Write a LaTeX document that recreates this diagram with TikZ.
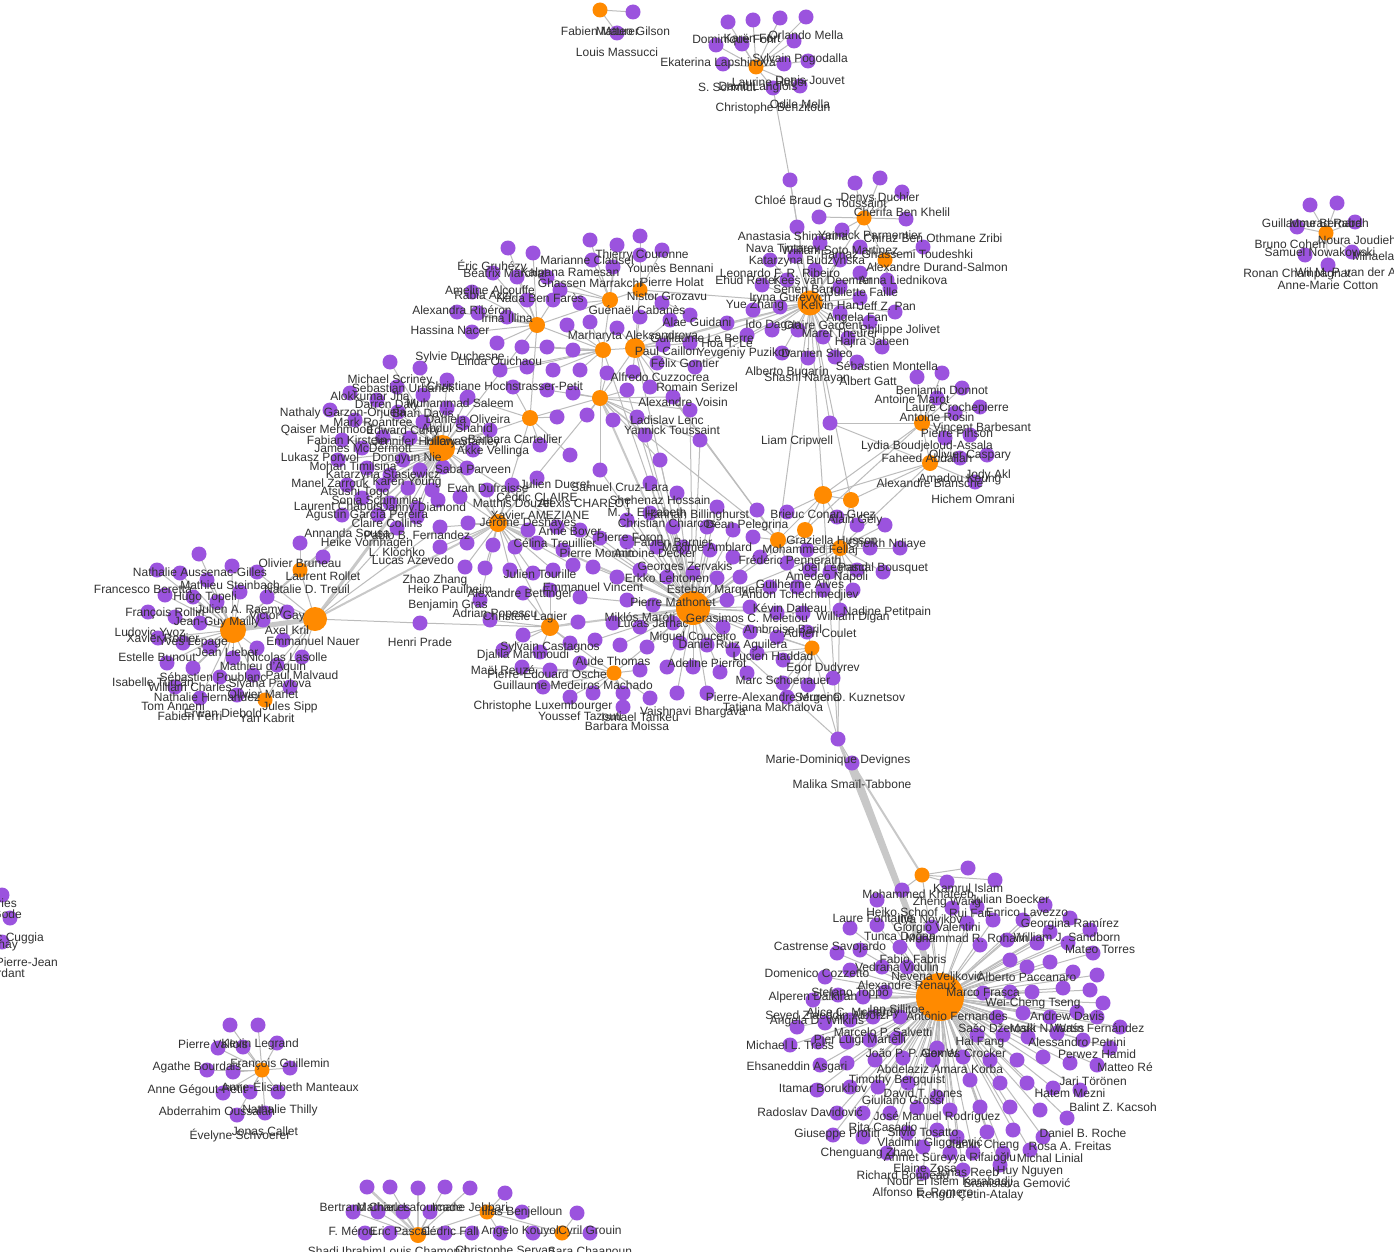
\documentclass[tikz,border=0pt]{standalone}
\usepackage{fontspec}
\setmainfont{Liberation Sans}
\definecolor{purp}{RGB}{155,83,222}
\definecolor{orng}{RGB}{255,138,0}
\definecolor{edgec}{RGB}{188,188,188}
\definecolor{bandc}{RGB}{200,200,200}
\definecolor{txt}{RGB}{50,50,50}
\tikzset{
  pdot/.style={circle,fill=purp,inner sep=0pt,minimum size=15pt},
  hub/.style={circle,fill=orng,inner sep=0pt,minimum size=#1},
  edge/.style={draw=edgec,line width=1pt},
  band/.style={draw=bandc,line width=#1},
  lbl/.style={font=\fontsize{12}{14}\selectfont,text=txt,inner sep=0pt}
}
% pass 1: coordinates + connectors
\newcommand\mydots[2]{%
  \foreach \px/\py/\hb [count=\i] in #2 {%
    \coordinate (#1\i) at (\px,\py);
    \draw[edge] (\hb) -- (#1\i);
  }}
% pass 2: the dots themselves
\newcommand\mynodes[2]{%
  \foreach \px/\py/\hb [count=\i] in #2 {%
    \node[pdot] (#1\i d) at (#1\i) {};
  }}
\newcommand\mylabels[2]{%
  \foreach \px/\py/\lab [count=\i] in {#2} {%
    \node[lbl] (#1\i) at (\px,\py) {\lab};
  }}
\newcommand\link[3][edge]{\draw[#1] (#2) -- (#3);}

\def\listta{633/12/TA, 617/33/TA}
\def\listth{728/22/TH, 753/20/TH, 780/18/TH, 806/17/TH, 716/45/TH, 742/44/TH, 794/41/TH, 723/64/TH, 784/64/TH, 808/61/TH, 773/88/TH, 800/86/TH}
\def\listk{790/180/K, 855/183/KA, 880/178/KA, 902/192/KA, 819/217/KA, 906/219/KA, 797/227/K, 842/230/KA, 820/243/K, 860/247/KB, 923/247/KB, 770/260/K, 795/256/K, 840/260/K, 815/270/K, 787/280/K, 762/285/K, 860/273/KB, 887/280/KB, 840/287/K, 860/298/K, 890/288/KB, 753/310/K, 780/307/K, 840/313/K, 895/312/K, 747/335/K, 772/330/K, 798/330/K, 823/337/K, 848/338/K, 870/322/K, 882/347/K, 782/353/K, 808/358/K, 835/357/K, 857/362/K}
\def\listd{917/377/D1, 942/373/D1, 962/388/D1, 937/398/D1, 980/407/D1, 955/413/D1, 945/438/D1, 970/435/D1, 987/455/D2, 960/458/D2, 975/482/D2}
\def\listc{508/248/C3, 533/253/C3, 590/240/C1, 617/245/C1, 640/236/C2, 662/250/C2, 592/260/C1, 613/267/C1, 640/255/C2, 493/273/C3, 517/277/C3, 547/277/C1, 560/290/C1, 580/303/C1, 662/303/C2, 472/292/C3, 527/300/C3, 553/300/C3, 457/312/C3, 478/313/C3, 507/317/C3, 567/325/C4, 590/322/C4, 617/328/C5, 640/317/C5, 670/320/C5, 690/315/C2, 727/323/C5, 472/332/C3, 497/343/C3, 522/347/C4, 547/347/C4, 573/350/C4, 663/345/C5, 690/343/C5, 500/370/C4, 527/367/C4, 553/370/C4, 580/370/C4, 607/373/C6, 633/372/C5, 657/363/C5, 695/367/C5, 513/387/C7, 547/390/C6, 573/393/C6, 627/390/C6, 650/387/C5, 673/397/C6, 690/410/C6, 467/398/C7, 557/417/C7, 587/415/C6, 613/420/C6, 637/417/C6, 645/435/C6, 700/440/C6, 660/460/C6, 600/470/C6, 570/455/C7, 540/445/C7}
\def\listl{390/362/L, 420/368/L, 397/387/L, 350/393/L, 377/400/L, 423/395/L, 468/397/L, 330/410/L, 398/412/L, 447/380/L, 447/408/L, 355/420/L, 423/422/L, 463/423/L, 490/430/L, 342/440/L, 383/437/L, 410/438/L, 473/450/L, 362/448/L, 338/460/L, 403/460/L, 367/468/L, 390/475/L, 420/470/L, 443/467/L, 467/468/L, 347/485/L, 383/485/L, 408/488/L, 432/490/L, 460/497/LB, 487/490/LB, 512/485/LB, 537/478/LB, 362/498/L, 390/503/L, 417/508/L, 438/500/L, 342/515/L, 378/515/L, 397/528/L, 417/517/L, 440/527/LB, 468/523/LB, 528/530/LB, 557/527/LB, 440/547/LB, 467/543/LB, 493/545/LB, 515/547/LB, 537/543/LB, 563/550/LB, 465/567/LB, 485/568/LB, 510/570/LB, 533/573/LB, 553/570/LB, 573/565/LB, 480/600/LB}
\def\listll{300/543/LC, 199/554/LL1, 157/570/LL1, 180/573/LL1, 232/566/LL1, 257/572/LL2, 323/557/LC, 207/580/LL1, 165/595/LL1, 193/597/LL1, 217/602/LL1, 240/592/LL1, 267/597/LL2, 148/612/LL1, 175/617/LL1, 200/623/LL1, 287/612/LL2, 263/620/LL1, 158/638/LL1, 183/643/LL1, 210/647/LL1, 257/648/LL1, 283/640/LL2, 233/658/LL1, 167/663/LL1, 193/668/LL1, 277/665/LL2, 302/657/LL2, 220/677/LL1, 253/675/LL3, 175/687/LL1, 200/698/LL1, 237/695/LL3, 290/687/LL3}
\def\listm{650/483/M, 677/493/M, 717/507/M, 757/510/MA, 787/512/MBr, 857/525/MG, 885/525/MC, 837/517/MBr, 627/520/M, 650/513/M, 673/527/M, 707/527/M, 733/530/M, 753/537/MA, 807/550/MC, 870/548/MC, 900/548/MC, 580/530/M, 600/538/M, 627/542/M, 657/547/M, 683/547/M, 710/550/M, 733/557/M, 760/557/MA, 787/563/MA, 810/570/MC, 830/572/MC, 857/570/MC, 883/572/MC, 593/567/M, 617/577/M, 640/570/M, 667/577/M, 693/573/M, 717/578/M, 740/577/M, 770/587/M, 797/587/MA, 823/590/MC, 853/590/MC, 523/593/M2, 550/590/M2, 580/597/M, 627/600/M, 653/605/M, 727/600/M, 750/607/M, 777/613/M, 803/613/M, 840/610/MC, 490/620/M2, 578/622/M2, 613/623/M, 640/627/M, 673/623/M, 723/627/M, 750/632/M, 777/637/M4, 807/632/M4, 523/635/M2, 503/650/M2, 540/652/M2, 570/643/M2, 595/640/M, 620/645/M, 647/647/M, 680/643/M, 707/645/M, 733/650/M, 757/653/M4, 783/660/M4, 522/667/M3, 550/670/M3, 580/663/M3, 640/670/M3, 667/667/M, 693/667/M, 720/672/M, 747/673/M, 783/683/M4, 808/685/M4, 833/678/M4, 543/687/M3, 570/697/M3, 593/693/M3, 623/693/M3, 650/698/M3, 677/693/M, 707/693/M, 787/697/M4, 623/707/M3}
\def\listr{968/868/RA, 995/880/RA, 902/890/RA, 947/882/RA, 877/900/R, 952/908/R, 977/907/R, 1045/905/R, 1070/918/R, 1090/930/R, 850/928/R, 877/925/R, 932/927/R, 967/923/R, 993/920/R, 1023/920/R, 1050/932/R, 837/953/R, 860/950/R, 900/947/R, 923/943/R, 980/945/R, 1007/940/R, 1037/943/R, 1068/943/R, 1093/953/R, 825/977/R, 850/970/R, 882/967/R, 907/967/R, 1010/960/R, 1027/967/R, 1050/962/R, 1073/972/R, 1097/975/R, 813/1000/R, 838/995/R, 863/997/R, 885/992/R, 983/993/R, 1010/992/R, 1032/992/R, 1063/988/R, 1090/990/R, 1103/1003/R, 797/1027/R, 825/1023/R, 850/1020/R, 873/1017/R, 900/1017/R, 997/1017/R, 1023/1013/R, 1050/1017/R, 1077/1012/R, 1097/1017/R, 1120/1027/R, 790/1045/R, 818/1042/R, 847/1042/R, 870/1040/R, 897/1038/R, 937/1048/R, 977/1035/R, 1003/1035/R, 1028/1037/R, 1057/1033/R, 1083/1040/R, 1110/1048/R, 820/1065/R, 847/1063/R, 875/1060/R, 903/1058/R, 933/1060/R, 963/1057/R, 990/1060/R, 1017/1060/R, 1043/1057/R, 1070/1063/R, 1097/1065/R, 817/1090/R, 850/1087/R, 878/1087/R, 908/1083/R, 937/1097/R, 970/1080/R, 1000/1083/R, 1027/1083/R, 1053/1088/R, 1080/1090/R, 837/1113/R, 863/1113/R, 890/1113/R, 917/1108/R, 950/1110/R, 980/1107/R, 1010/1107/R, 1040/1110/R, 1067/1118/R, 833/1135/R, 863/1137/R, 907/1133/R, 937/1130/R, 957/1137/R, 987/1132/R, 1013/1130/R, 1043/1137/R, 887/1153/R, 923/1147/R, 950/1153/R, 973/1153/R, 1003/1153/R, 1030/1150/R, 923/1173/R, 963/1170/R, 1000/1165/R}
\def\listtr{1310/205/TRH, 1337/203/TRH, 1355/222/TRH, 1297/227/TRH, 1305/255/TRH, 1328/265/TRH, 1352/252/TRH}
\def\listbl{230/1025/BLH, 258/1025/BLH, 218/1048/BLH, 243/1047/BLH, 277/1043/BLH, 207/1070/BLH, 233/1072/BLH, 290/1068/BLH, 223/1093/BLH, 250/1092/BLH, 278/1092/BLH, 237/1115/BLH, 265/1113/BLH}
\def\listb{367/1187/B2, 390/1187/B2, 418/1188/B2, 445/1187/B2, 470/1188/B2, 505/1193/B1, 353/1212/B2, 378/1212/B2, 403/1212/B2, 430/1212/B2, 522/1212/B1, 577/1213/B3, 365/1233/B2, 390/1233/B2, 445/1233/B2, 472/1233/B2, 500/1233/B1, 533/1233/B3, 590/1233/B3}

\begin{document}
\begin{tikzpicture}[x=1pt,y=-1pt]
\useasboundingbox (0,0) rectangle (1394,1252);
\fill[white] (0,0) rectangle (1394,1252);

% ---------------- hub positions ----------------
\coordinate (TA) at (600,10);
\coordinate (TH) at (756,67);
\coordinate (K) at (810,303);
\coordinate (KA) at (864,218);
\coordinate (KB) at (885,260);
\coordinate (D1) at (922,423);
\coordinate (D2) at (930,463);
\coordinate (C1) at (610,300);
\coordinate (C2) at (640,290);
\coordinate (C3) at (537,325);
\coordinate (C4) at (603,350);
\coordinate (C5) at (635,348);
\coordinate (C6) at (600,398);
\coordinate (C7) at (530,418);
\coordinate (L) at (442,448);
\coordinate (LB) at (498,523);
\coordinate (LC) at (300,570);
\coordinate (LL1) at (233,630);
\coordinate (LL2) at (315,619);
\coordinate (LL3) at (265,700);
\coordinate (HP) at (420,623);
\coordinate (M) at (693,608);
\coordinate (MA) at (778,540);
\coordinate (MB) at (805,530);
\coordinate (MC) at (840,548);
\coordinate (MBr) at (823,495);
\coordinate (MG) at (851,500);
\coordinate (M2) at (550,627);
\coordinate (M3) at (614,673);
\coordinate (M4) at (812,648);
\coordinate (MD) at (838,739);
\coordinate (ML) at (852,763);
\coordinate (LI) at (830,423);
\coordinate (R) at (940,997);
\coordinate (RA) at (922,875);
\coordinate (TRH) at (1326,233);
\coordinate (BLH) at (262,1070);
\coordinate (B1) at (487,1212);
\coordinate (B2) at (418,1235);
\coordinate (B3) at (562,1233);

% ---------------- connectors ----------------
\mydots{ta}{\listta}
\mydots{th}{\listth}
\mydots{k}{\listk}
\mydots{d}{\listd}
\mydots{c}{\listc}
\mydots{l}{\listl}
\mydots{ll}{\listll}
\mydots{m}{\listm}
\mydots{r}{\listr}
\mydots{tr}{\listtr}
\mydots{bl}{\listbl}
\mydots{b}{\listb}

\link{th11}{k1}\link{k1}{K}
\link{K}{KA}\link{K}{KB}\link{KA}{KB}
\link{K}{LI}\link{D1}{LI}\link{D2}{LI}\link{D1}{D2}
\link{K}{MBr}\link{K}{MG}\link{K}{MA}
\link{D1}{MBr}\link{D2}{MBr}\link{D2}{MG}\link{D1}{MB}\link{D2}{MC}
\link{C1}{C2}\link{C1}{C3}\link{C1}{C4}\link{C4}{C5}\link{C2}{C5}\link{C4}{C6}
\link{C5}{C6}\link{C6}{C7}\link{C3}{C7}\link{C3}{C4}
\link[band=1.5pt]{C5}{K}\link{C2}{K}\link{C5}{MA}\link{c28}{K}\link{c35}{K}\link{c43}{K}
\link{C7}{L}\link{C3}{L}\link[band=2pt]{C6}{M}\link{C4}{M}\link{C5}{M}\link{C7}{LB}\link{C6}{LB}\link{C6}{MA}
\link{c56}{M}\link{c57}{M}\link{c58}{M}\link{c59}{M}\link{c50}{M}\link{c47}{M}\link{c49}{MA}
\link[band=2pt]{L}{LB}\link{L}{LC}\link{L}{M}\link[band=2pt]{LB}{M}\link{LB}{M2}
\link[band=5pt]{LL1}{LL2}\link{LL2}{LC}\link{LL1}{LC}\link[band=3pt]{LL2}{L}\link[band=2pt]{LL2}{LB}
\link{LL2}{l44}\link{LL2}{l42}\link{LL1}{L}
\link{LL1}{LL3}\link{LL2}{LL3}\link{LL2}{HP}\link{HP}{M2}
\link{M}{MA}\link{M}{MB}\link{M}{MC}\link{MA}{MBr}\link{MB}{MBr}\link{MBr}{MG}\link{MC}{MG}\link{MA}{MC}
\link[band=2pt]{M}{M2}\link{M}{M3}\link{M}{M4}\link{M2}{M3}
\link{MD}{M}\link{MD}{M4}\link{MD}{MC}\link{MD}{MBr}\link{MD}{ML}
\link[band=3pt]{MD}{R}\link[band=6pt]{ML}{R}\link[band=2pt]{ML}{RA}\link{RA}{R}
\link{B1}{B2}\link{B1}{B3}\link[band=2.5pt]{B2}{b1}\link[band=2pt]{B2}{b3}

% ---------------- dots ----------------
\mynodes{ta}{\listta}
\mynodes{th}{\listth}
\mynodes{k}{\listk}
\mynodes{d}{\listd}
\mynodes{c}{\listc}
\mynodes{l}{\listl}
\mynodes{ll}{\listll}
\mynodes{m}{\listm}
\mynodes{r}{\listr}
\mynodes{tr}{\listtr}
\mynodes{bl}{\listbl}
\mynodes{b}{\listb}
\node[pdot] (HPn) at (HP) {};
\node[pdot] (MDn) at (MD) {};
\node[pdot] (MLn) at (ML) {};
\node[pdot] (LIn) at (LI) {};
\node[pdot] (LE1) at (2,895) {};
\node[pdot] (LE2) at (10,918) {};
\node[pdot] (LE3) at (2,942) {};

% ---------------- hubs ----------------
\node[hub=15pt] (TAn) at (TA) {};
\node[hub=15pt] (THn) at (TH) {};
\node[hub=25pt] (Kn) at (K) {};
\node[hub=15pt] (KAn) at (KA) {};
\node[hub=15pt] (KBn) at (KB) {};
\node[hub=16pt] (D1n) at (D1) {};
\node[hub=16pt] (D2n) at (D2) {};
\node[hub=16pt] (C1n) at (C1) {};
\node[hub=15pt] (C2n) at (C2) {};
\node[hub=16pt] (C3n) at (C3) {};
\node[hub=16pt] (C4n) at (C4) {};
\node[hub=20pt] (C5n) at (C5) {};
\node[hub=16pt] (C6n) at (C6) {};
\node[hub=16pt] (C7n) at (C7) {};
\node[hub=26pt] (Ln) at (L) {};
\node[hub=18pt] (LBn) at (LB) {};
\node[hub=15pt] (LCn) at (LC) {};
\node[hub=26pt] (LL1n) at (LL1) {};
\node[hub=24pt] (LL2n) at (LL2) {};
\node[hub=15pt] (LL3n) at (LL3) {};
\node[hub=34pt] (Mn) at (M) {};
\node[hub=16pt] (MAn) at (MA) {};
\node[hub=16pt] (MBn) at (MB) {};
\node[hub=16pt] (MCn) at (MC) {};
\node[hub=18pt] (MBrn) at (MBr) {};
\node[hub=16pt] (MGn) at (MG) {};
\node[hub=18pt] (M2n) at (M2) {};
\node[hub=15pt] (M3n) at (M3) {};
\node[hub=15pt] (M4n) at (M4) {};
\node[hub=48pt] (Rn) at (R) {};
\node[hub=15pt] (RAn) at (RA) {};
\node[hub=15pt] (TRHn) at (TRH) {};
\node[hub=15pt] (BLHn) at (BLH) {};
\node[hub=15pt] (B1n) at (B1) {};
\node[hub=16pt] (B2n) at (B2) {};
\node[hub=15pt] (B3n) at (B3) {};

% ---------------- labels ----------------
\mylabels{lt}{600/31/Fabien Maurer, 633/31/Matteo Gilson, 617/52/Louis Massucci,
735/40/Dominique Fohr, 752/38/Karën Fort, 806/35/Orlando Mella, 718/63/Ekaterina Lapshinova,
800/59/Sylvain Pogodalla, 770/82/Laurine Huber, 810/80/Denis Jouvet, 758/87/David Langlois,
727/87/S. Schmidt, 800/104/Odile Mella, 773/108/Christophe Benzitoun}
\mylabels{lk}{788/200/Chloé Braud, 855/203/G Toussaint, 880/198/Denys Duchier, 902/212/Chérifa Ben Khelil,
793/236/Anastasia Shimorina, 870/235/Yannick Parmentier, 933/238/Chiraz Ben Othmane Zribi,
783/248/Nava Tintarev, 840/250/William Soto Martinez, 897/254/Farnaz Ghassemi Toudeshki,
807/261/Katarzyna Budzynska, 937/267/Alexandre Durand-Salmon, 780/273/Leonardo F. R. Ribeiro,
747/280/Ehud Reiter, 823/280/Kees van Deemter, 903/280/Anna Liednikova, 807/289/Senén Barro,
863/292/Juliette Faille, 790/298/Iryna Gurevych, 830/305/Kelvin Han, 887/306/Jeff Z. Pan,
755/305/Yue Zhang, 857/318/Angela Fan, 773/325/Ido Dagan, 823/325/Claire Gardent,
900/330/Philippe Jolivet, 840/333/Maret Theurer, 872/342/Hajira Jabeen, 744/353/Yevgeniy Puzikov,
817/353/Damien Sileo, 887/366/Sébastien Montella, 787/372/Alberto Bugarín, 807/378/Shashi Narayan,
868/381/Albert Gatt, 797/441/Liam Cripwell}
\mylabels{ld}{942/391/Benjamin Donnot, 912/399/Antoine Marot, 957/408/Laure Crochepierre,
937/417/Antoine Rosin, 982/427/Vincent Barbesant, 957/433/Pierre Pinson,
927/446/Lydia Boudjeloud-Assala, 970/455/Olivier Caspary, 927/458/Faheed Abdallah,
988/475/Jody Akl, 960/479/Amadou Keung, 930/483/Alexandre Blansché, 973/499/Hichem Omrani}
\mylabels{lc}{642/255/Thierry Couronne, 587/260/Marianne Clausel, 670/268/Younès Bennani,
492/267/Éric Gruhézy, 505/273/Béatrix Marchal, 570/273/Kalpana Ramesan, 590/283/Ghassen Marrakchi,
672/282/Pierre Holat, 490/290/Ameline Alcouffe, 483/295/Rabia Azzi, 540/298/Nada Ben Farès,
667/296/Nistor Grozavu, 637/310/Guénaël Cabanès, 462/310/Alexandra Ribéron, 507/318/Irina Illina,
697/322/Alae Guidani, 450/330/Hassina Nacer, 633/336/Marharyta Aleksandrova,
702/338/Guillaume Le Berre, 667/351/Paul Caillon, 727/343/Hoa T. Le, 460/357/Sylvie Duchesne,
500/361/Linda Ouichaou, 685/363/Félix Gontier, 660/377/Alfredo Cuzzocrea,
505/386/Christiane Hochstrasser-Petit, 697/387/Romain Serizel, 683/402/Alexandre Voisin,
667/420/Ladislav Lenc, 672/430/Yannick Toussaint}
\mylabels{lq}{390/380/Michael Scriney, 403/388/Sebastian Urbanek, 370/396/Alokkumar Jha,
460/403/Muhammad Saleem, 387/405/Darren Daly, 343/413/Nathaly Garzon-Orjuela, 423/413/Brian Davis,
468/419/Daniela Oliveira, 373/422/Mark Roantree, 457/428/Abdul Shahid, 327/430/Qaiser Mehmood,
403/431/Edward Curry, 347/440/Fabian Kirstein, 420/442/Jennifer Holloway, 463/442/Hilary Stanley,
515/439/Barbara Cartellier, 493/451/Akke Vellinga, 363/448/James McDermott, 320/457/Lukasz Porwol,
407/458/Dongyun Nie, 353/466/Mohan Timilsina, 473/469/Saba Parveen, 383/475/Katarzyna Stasiewicz,
330/483/Manel Zarrouk, 407/483/Karen Young, 355/492/Atsushi Togo, 488/488/Evan Dufraisse,
555/484/Julien Ducret, 377/500/Sonia Schimmler, 513/503/Matthis Douzet, 537/497/Cédric CLAIRE,
585/503/Alexis CHARLOT, 620/487/Samuel Cruz-Lara, 338/507/Laurent Chapuis, 423/508/Danny Diamond,
367/515/Agustín García Pereira, 387/523/Claire Collins, 347/533/Annanda Sousa,
540/515/Xavier AMEZIANE, 528/523/Jérôme Deshayes, 417/535/Pablo B. Fernandez,
367/543/Heike Vornhagen, 555/543/Célina Treuillier, 397/552/L. Klochko, 413/560/Lucas Azevedo,
435/580/Zhao Zhang, 450/589/Heiko Paulheim, 520/594/Alexandre Bettinger, 540/574/Julien Tourille,
448/605/Benjamin Gras, 495/614/Adrian Popescu, 525/617/Christèle Lagier, 420/642/Henri Prade}
\mylabels{lw}{300/563/Olivier Bruneau, 200/572/Nathalie Aussenac-Gilles, 323/576/Laurent Rollet,
143/589/Francesco Beretta, 230/585/Mathieu Steinbach, 307/589/Natalie D. Treuil, 205/597/Hugo Topeli,
240/610/Julien A. Raemy, 165/613/François Rollin, 277/616/Victor Gay, 217/622/Jean-Guy Mailly,
150/632/Ludovic Yvoz, 287/630/Axel Kril, 163/638/Xavier Rodier, 193/643/Yves Lepage,
313/641/Emmanuel Nauer, 227/652/Jean Lieber, 157/657/Estelle Bunout, 287/657/Nicolas Lasolle,
263/667/Mathieu d'Aquin, 213/677/Sébastien Poublanc, 302/675/Paul Malvaud, 153/682/Isabelle Turcan,
190/687/William Charles, 270/684/Siyana Pavlova, 207/697/Nathalie Hernandez, 263/694/Olivier Marlet,
173/706/Tom Anneni, 290/707/Jules Sipp, 190/716/Fabien Ferri, 223/713/Erwan Diebold, 267/718/Yan Kabrit}
\mylabels{lm}{660/500/Shehenaz Hossain, 647/512/M. J. Elizabeth, 697/515/Hannah Billinghurst,
667/523/Christian Chiarcos, 747/525/Dean Pelegrina, 823/514/Brieuc Conan-Guez, 855/520/Alain Gély,
570/533/Anne Boyer, 630/537/Pierre Foron, 832/540/Graziella Husson, 887/544/Cheikh Ndiaye,
673/542/Fabien Barnier, 707/547/Maxime Amblard, 810/550/Mohammed Fellaj, 597/553/Pierre Monnin,
655/553/Antoine Decker, 790/560/Frédéric Pennerath, 685/567/Georges Zervakis, 833/568/Joël Legrand,
883/568/Pascal Bousquet, 667/578/Erkko Lehtonen, 827/577/Amedeo Napoli, 593/587/Emmanuel Vincent,
800/584/Guilherme Alves, 713/590/Esteban Marquer, 800/595/Andon Tchechmedjiev,
673/602/Pierre Mathonet, 790/608/Kévin Dalleau, 887/612/Nadine Petitpain, 853/617/William Digan,
640/617/Miklós Maróti, 747/618/Gerasimos C. Meletiou, 653/623/Lucas Jarnac, 783/629/Ambroise Baril,
820/633/Adrien Coulet, 693/637/Miguel Couceiro, 550/647/Sylvain Castagnos,
733/645/Daniel Ruiz Aguilera, 523/655/Djalila Mahmoudi, 773/656/Lucien Haddad, 613/661/Aude Thomas,
823/668/Egor Dudyrev, 707/663/Adeline Pierrot, 503/670/Maël Reuzé, 547/673/Pierre-Édouard Osche,
783/680/Marc Schoenauer, 573/685/Guillaume Medeiros Machado, 773/697/Pierre-Alexandre Murena,
850/698/Sergei O. Kuznetsov, 543/706/Christophe Luxembourger, 773/707/Tatiana Makhalova,
580/716/Youssef Tazouti, 693/712/Vaishnavi Bhargava, 640/717/Ismael Tankeu, 627/726/Barbara Moissa,
838/760/Marie-Dominique Devignes, 852/784/Malika Smaïl-Tabbone}
\mylabels{lr}{968/888/Kamrul Islam, 918/894/Mohammed Khateeb, 947/902/Zheng Wang, 1010/899/Julian Boecker,
902/912/Heiko Schoof, 970/913/Rui Fan, 1027/912/Enrico Lavezzo, 873/918/Laure Fontaine,
930/920/Ilya Novikov, 937/928/Giorgio Valentini, 1070/924/Georgina Ramírez, 900/937/Tunca Doğan,
967/938/Muhammad R. Rohaim, 1067/937/William J. Sandborn, 830/947/Castrense Savojardo,
1100/949/Mateo Torres, 913/959/Fabio Fabris, 817/973/Domenico Cozzetto, 897/967/Vedrana Vidulin,
937/977/Nevena Veljković, 907/985/Alexandre Renaux, 1027/977/Alberto Paccanaro, 983/992/Marco Frasca,
813/997/Alperen Dalkiran, 850/993/Stefano Toppo, 1033/1003/Wei-Cheng Tseng, 897/1009/Ian Sillitoe,
827/1016/Seyed Ziaeddin Alborzi, 817/1021/Angela D. Wilkins, 853/1013/Alice C. McHardy,
957/1016/Antônio Fernandes, 1067/1016/Andrew Davis, 997/1028/Sašo Džeroski, 1047/1028/Mark N. Wass,
1097/1028/Martín Fernández, 883/1032/Marcelo P. Salvetti, 980/1042/Hai Fang,
1077/1042/Alessandro Petrini, 790/1045/Michael L. Tress, 860/1040/Pier Luigi Martelli,
913/1053/João P. P. Gomes, 963/1053/Alex W. Crocker, 1097/1054/Perwez Hamid,
797/1067/Ehsaneddin Asgari, 940/1069/Abdelaziz Amara Korba, 1125/1067/Matteo Ré,
897/1080/Timothy Bergquist, 1093/1081/Jari Törönen, 823/1088/Itamar Borukhov, 923/1093/David T. Jones,
1070/1093/Hatem Mezni, 810/1112/Radoslav Davidović, 903/1100/Giuliano Grossi,
1113/1107/Balint Z. Kacsoh, 937/1117/José Manuel Rodríguez, 837/1134/Giuseppe Profiti,
883/1127/Rita Casadio, 923/1132/Silvio Tosatto, 1083/1133/Daniel B. Roche,
930/1143/Vladimir Gligorijević, 983/1145/Jianlin Cheng, 1070/1146/Rosa A. Freitas,
867/1153/Chenguang Zhao, 950/1158/Ahmet Süreyya Rifaioğlu, 1050/1158/Michal Linial,
925/1168/Elaine Zosa, 903/1175/Richard Bonneau, 967/1172/Jonas Reeb, 1030/1172/Huy Nguyen,
950/1182/Nour El Islem Karabadji, 1017/1183/Branislava Gemović, 923/1192/Alfonso E. Romero,
970/1195/Rengül Çetin-Atalay}
\mylabels{lx}{1312/223/Guillaume Bernard, 1329/223/Mourad Rabah, 1290/244/Bruno Cohen,
1357/240/Noura Joudieh, 1320/252/Samuel Nowakowski, 1400/257/Mihaela Juganaru,
1297/274/Ronan Champagnat, 1355/272/Wil M. P. van der Aalst, 1328/285/Anne-Marie Cotton}
\mylabels{ly}{213/1044/Pierre Vallois, 260/1044/Kevin Legrand, 197/1067/Agathe Bourdais,
280/1064/François Guillemin, 197/1090/Anne Gégout-Petit, 290/1086/Anne-Élisabeth Manteaux,
217/1111/Abderrahim Oussalah, 280/1110/Nathalie Thilly, 265/1131/Jonas Callet,
240/1136/Évelyne Schvoerer}
\mylabels{lz}{365/1207/Bertrand Charles, 410/1207/Mathieu Lafourcade, 470/1207/Imane Jebbari,
522/1212/Ilias Benjelloun, 352/1231/F. Mérou, 400/1231/Eric Pascal, 450/1231/Cédric Fall,
520/1231/Angelo Kouyol, 590/1231/Cyril Grouin, 345/1251/Shadi Ibrahim, 425/1251/Louis Chamond,
505/1251/Christophe Servan, 590/1251/Sara Chaanoun}
\node[lbl,anchor=east] (le1) at (17,903) {Thomas Desvries};
\node[lbl,anchor=east] (le2) at (22,914) {Laurent Gode};
\node[lbl,anchor=east] (le3) at (44,938) {Marc Cuggia};
\node[lbl,anchor=east] (le4) at (18,945) {Boris Delahay};
\node[lbl,anchor=east] (le5) at (58,962) {Darmoni Pierre-Jean};
\node[lbl,anchor=east] (le6) at (25,973) {Nathalie Bordant};
\end{tikzpicture}
\end{document}
